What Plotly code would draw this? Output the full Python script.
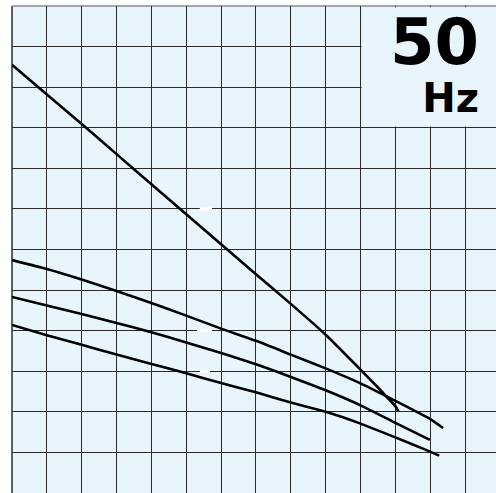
import plotly.graph_objects as go

# Flow (grid units) and head (grid units)
q1 = [0, 1, 2, 3, 4, 5, 6, 7, 8, 9, 10, 10.5, 10.75, 11.0, 11.09]
h1 = [10.55, 9.82, 9.09, 8.35, 7.61, 6.87, 6.13, 5.39, 4.66, 3.90, 3.04, 2.60, 2.37, 2.14, 2.01]

q2 = [0, 1, 2, 3, 4, 5, 6, 7, 8, 9, 10, 11, 12, 12.37]
h2 = [5.74, 5.52, 5.26, 4.98, 4.68, 4.37, 4.05, 3.75, 3.41, 3.07, 2.70, 2.27, 1.82, 1.60]

q3 = [0, 1, 2, 3, 4, 5, 6, 7, 8, 9, 10, 11, 11.99]
h3 = [4.83, 4.62, 4.41, 4.19, 3.96, 3.71, 3.45, 3.17, 2.86, 2.53, 2.16, 1.73, 1.31]

q4 = [0, 1, 2, 3, 4, 5, 6, 7, 8, 9, 10, 11, 12, 12.26]
h4 = [4.14, 3.89, 3.65, 3.41, 3.18, 2.95, 2.71, 2.48, 2.23, 2.00, 1.71, 1.37, 1.02, 0.92]

freq_label = "50"
unit_label = "Hz"

BG = "#E8F5FD"
GRID = "#2b2b2b"

fig = go.Figure()
for q, h in [(q1, h1), (q2, h2), (q3, h3), (q4, h4)]:
    fig.add_trace(go.Scatter(x=q, y=h, mode="lines",
                             line=dict(color="#000000", width=2.6, shape="spline", smoothing=0.6),
                             showlegend=False, hoverinfo="skip"))

fig.update_layout(
    width=496, height=493,
    margin=dict(l=12, r=0, t=6, b=0),
    paper_bgcolor="white", plot_bgcolor=BG,
    xaxis=dict(range=[0, 13.888], dtick=1, tick0=0, showgrid=True,
               gridcolor=GRID, gridwidth=1.3, zeroline=False,
               showticklabels=False, ticks="", showline=False),
    yaxis=dict(range=[0, 12], dtick=1, tick0=0, showgrid=True,
               gridcolor=GRID, gridwidth=1.3, zeroline=False,
               showticklabels=False, ticks="", showline=False),
    shapes=[
        dict(type="rect", xref="x", yref="y", x0=10.03, x1=14.5, y0=9.03, y1=11.97,
             fillcolor=BG, line=dict(width=0), layer="between"),
        dict(type="line", xref="paper", yref="paper", x0=0, x1=0, y0=0, y1=1,
             line=dict(color=GRID, width=1.5), layer="between"),
        dict(type="line", xref="paper", yref="paper", x0=0, x1=1, y0=1, y1=1,
             line=dict(color="#8a8a8a", width=1.3), layer="between"),
        dict(type="line", xref="x", yref="y", x0=5.39, x1=5.74, y0=7, y1=7,
             line=dict(color="white", width=3), layer="between"),
        dict(type="line", xref="x", yref="y", x0=5.31, x1=5.74, y0=4, y1=4,
             line=dict(color="white", width=3), layer="between"),
        dict(type="line", xref="x", yref="y", x0=5.39, x1=5.68, y0=3, y1=3,
             line=dict(color="white", width=3), layer="between"),
    ],
    annotations=[
        dict(text=(f"<span style='font-size:64px'><b>{freq_label}</b></span><br>"
                   f"<span style='font-size:40px'><b>{unit_label}</b></span>"),
             xref="paper", yref="paper", x=0.969, y=0.883,
             xanchor="right", yanchor="middle", align="right", showarrow=False,
             font=dict(family="DejaVu Sans, sans-serif", size=37, color="#000")),
    ],
)

fig.write_html("out.html", config={"displayModeBar": False},
               post_script="document.body.style.margin='0';document.body.style.padding='0';")
